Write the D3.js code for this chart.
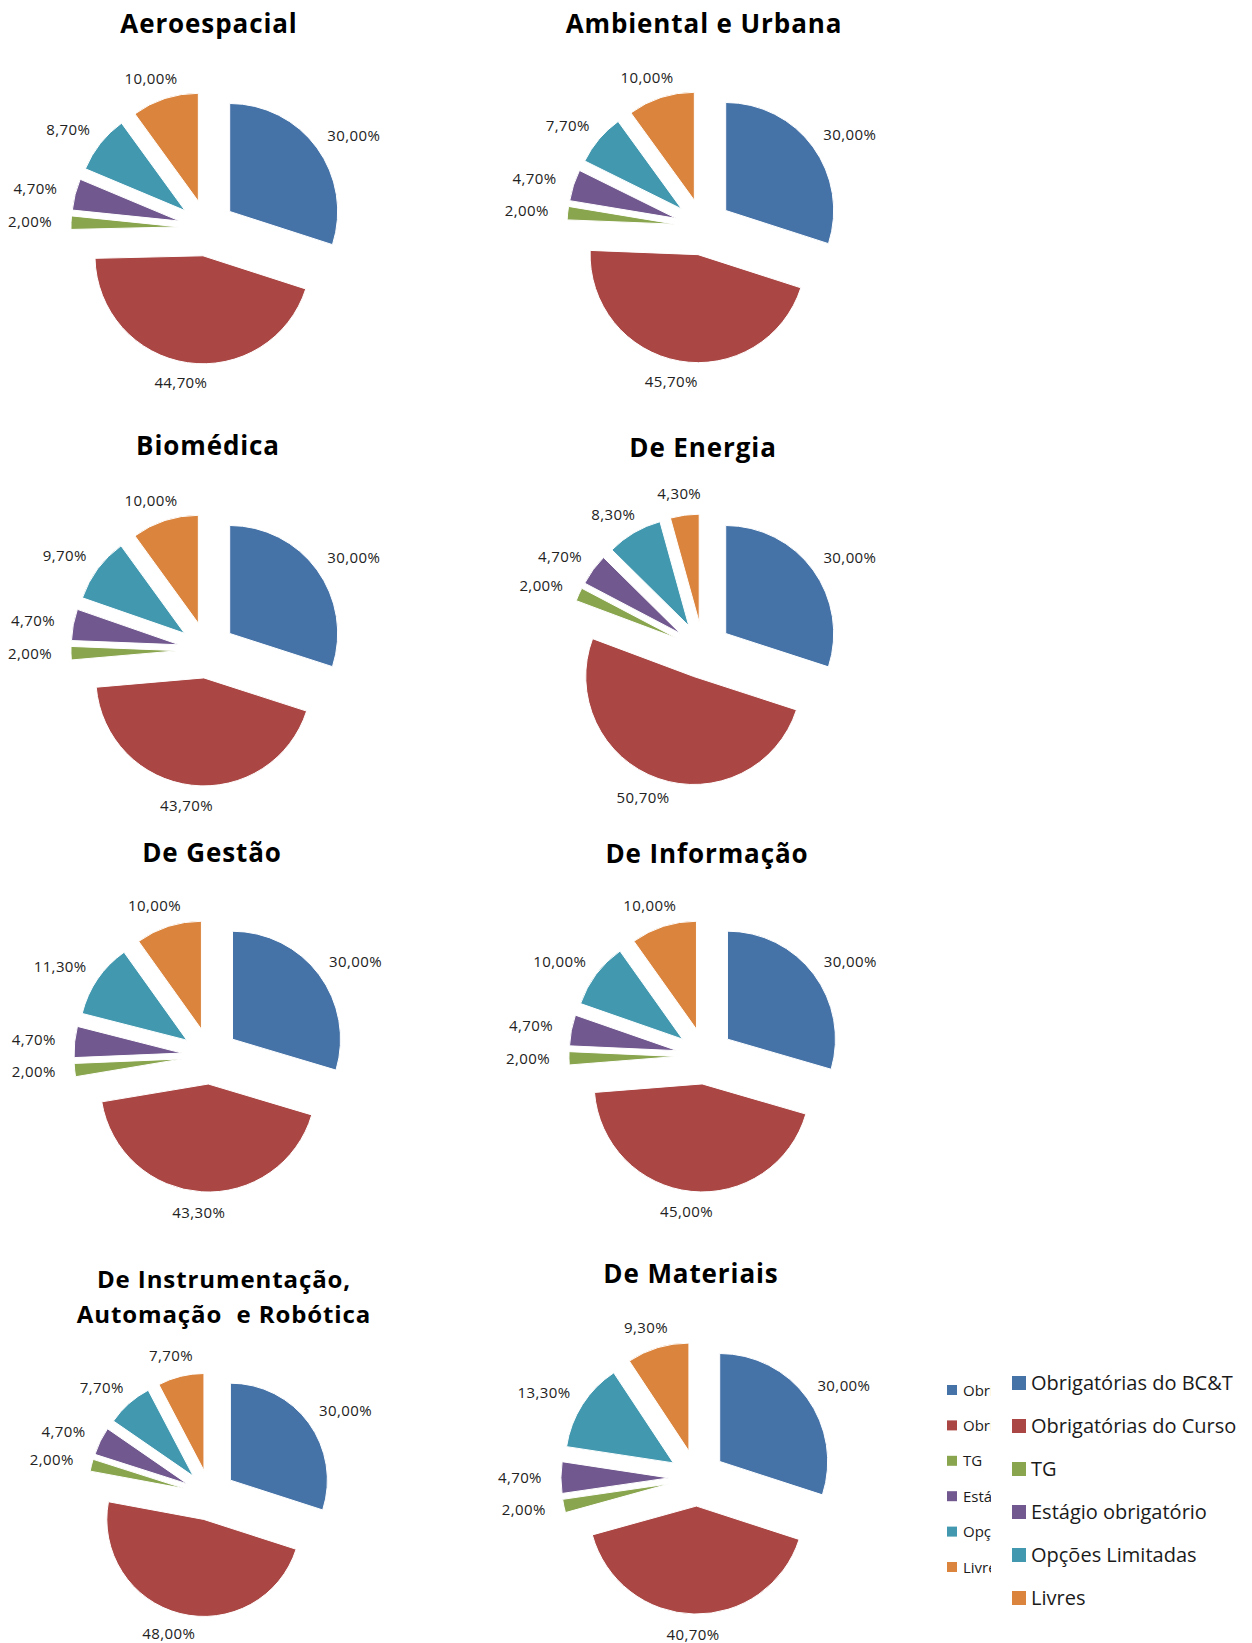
<!DOCTYPE html>
<html>
<head>
<meta charset="utf-8">
<script src="https://cdn.jsdelivr.net/npm/d3@7"></script>
<style>
  body { margin: 0; background: #fff; }
  svg { display: block; }
</style>
</head>
<body>
<svg id="chart" width="1252" height="1643"></svg>
<script>
// categories (same order in every pie, clockwise from 12 o'clock)
const categories = ['Obrigatórias do BC&T', 'Obrigatórias do Curso', 'TG', 'Estágio obrigatório', 'Opções Limitadas', 'Livres'];
const colors = ['#4572A7', '#AA4643', '#89A54E', '#71588F', '#4198AF', '#DB843D'];

// course titles
const courses = ['Aeroespacial', 'Ambiental e Urbana', 'Biomédica', 'De Energia', 'De Gestão', 'De Informação', 'De Instrumentação,\nAutomação  e Robótica', 'De Materiais'];

// values (%) per course
const aeroespacial = [30.0, 44.7, 2.0, 4.7, 8.7, 10.0];
const ambiental = [30.0, 45.7, 2.0, 4.7, 7.7, 10.0];
const biomedica = [30.0, 43.7, 2.0, 4.7, 9.7, 10.0];
const energia = [30.0, 50.7, 2.0, 4.7, 8.3, 4.3];
const gestao = [30.0, 43.3, 2.0, 4.7, 11.3, 10.0];
const informacao = [30.0, 45.0, 2.0, 4.7, 10.0, 10.0];
const instrumentacao = [30.0, 48.0, 2.0, 4.7, 7.7, 7.7];
const materiais = [30.0, 40.7, 2.0, 4.7, 13.3, 9.3];
const seriesList = [aeroespacial, ambiental, biomedica, energia, gestao, informacao, instrumentacao, materiais];

// panel layout (center, radius, title position and size)
const panels = [
  { cx: 207, cy: 228, r: 108, tx: 209, ty: 23, fs: 26 },
  { cx: 703, cy: 227, r: 108, tx: 704, ty: 23, fs: 26 },
  { cx: 207, cy: 650, r: 108, tx: 208, ty: 445, fs: 26 },
  { cx: 703, cy: 650, r: 108, tx: 703, ty: 447, fs: 26 },
  { cx: 210, cy: 1056, r: 108, tx: 212, ty: 852, fs: 26 },
  { cx: 705, cy: 1056, r: 108, tx: 707, ty: 853, fs: 26 },
  { cx: 210, cy: 1495, r: 97, tx: 224, ty: 1278, fs: 24 },
  { cx: 697, cy: 1478, r: 108, tx: 691, ty: 1273, fs: 26 }
];

const svg = d3.select('#chart');
const color = d3.scaleOrdinal().domain(categories).range(colors);
const fmt = v => v.toFixed(2).replace('.', ',') + '%';

const pie = d3.pie().sort(null).value(d => d.value);

seriesList.forEach(function(values, k) {
  let p = panels[k];
  let r = p.r;
  let explode = r * 0.26;
  let data = values.map((v, i) => ({ cat: categories[i], value: v }));
  let arcs = pie(data);
  let arc = d3.arc().innerRadius(0).outerRadius(r);

  // title
  let lines = courses[k].split('\n');
  let title = svg.append('text')
    .attr('x', p.tx)
    .attr('y', p.ty)
    .attr('text-anchor', 'middle')
    .attr('dominant-baseline', 'central')
    .style('font-family', '"Open Sans", sans-serif')
    .style('font-weight', 'bold')
    .style('font-size', p.fs + 'px')
    .style('letter-spacing', '0.9px')
    .style('white-space', 'pre')
    .style('fill', '#000');
  lines.forEach(function(l, i) {
    title.append('tspan')
      .attr('x', p.tx)
      .attr('dy', i == 0 ? 0 : 35)
      .text(l);
  });

  let g = svg.append('g')
    .attr('transform', 'translate(' + p.cx + ',' + p.cy + ')');

  g.selectAll('path')
    .data(arcs)
    .enter()
    .append('path')
    .attr('transform', function(d) {
      let a = (d.startAngle + d.endAngle) / 2;
      return 'translate(' + (Math.sin(a) * explode) + ',' + (-Math.cos(a) * explode) + ')';
    })
    .attr('d', arc)
    .attr('fill', d => color(d.data.cat))
    .attr('stroke', '#fff')
    .attr('stroke-width', 1);

  // data labels, outside end
  let labels = g.selectAll('.lbl')
    .data(arcs)
    .enter()
    .append('text')
    .attr('class', 'lbl')
    .attr('text-anchor', 'middle')
    .style('font-family', '"Open Sans", sans-serif')
    .style('font-size', '15px')
    .style('letter-spacing', '0.4px')
    .style('fill', '#222')
    .text(d => fmt(d.data.value));
  labels.each(function(d) {
    let w = this.getComputedTextLength();
    let a = (d.startAngle + d.endAngle) / 2;
    let ux = Math.sin(a);
    let uy = -Math.cos(a);
    let dist = r + explode + 15;
    let x = ux * dist + ux * (w / 2 + 4);
    let y = uy * dist + uy * 6;
    d3.select(this).attr('x', x).attr('y', y + 5);
  });
});

// legends (a clipped small one and the full one)
svg.append('clipPath').attr('id', 'clipSmall')
  .append('rect').attr('x', 940).attr('y', 1360).attr('width', 51).attr('height', 230);
let small = svg.append('g').attr('clip-path', 'url(#clipSmall)');
let smallRows = small.selectAll('g')
  .data(categories)
  .enter()
  .append('g')
  .attr('transform', (d, i) => 'translate(947,' + (1390 + i * 35.4) + ')');
smallRows.append('rect')
  .attr('x', 0).attr('y', -5).attr('width', 10).attr('height', 10)
  .attr('fill', d => color(d));
smallRows.append('text')
  .attr('x', 16).attr('y', 5.5)
  .style('font-family', '"Open Sans", sans-serif')
  .style('font-size', '15px')
  .style('fill', '#1a1a1a')
  .text(d => d)
  .each(function(d) {
    // keep only what shows inside the clipped box (plus the cut glyph)
    let t = d3.select(this);
    let s = d;
    while (s.length > 1 && this.getSubStringLength(0, s.length - 1) > 28) {
      s = s.slice(0, -1);
      t.text(s);
    }
  });

let big = svg.append('g');
let bigRows = big.selectAll('g')
  .data(categories)
  .enter()
  .append('g')
  .attr('transform', (d, i) => 'translate(1012,' + (1383 + i * 43) + ')');
bigRows.append('rect')
  .attr('x', 0).attr('y', -7).attr('width', 14).attr('height', 14)
  .attr('fill', d => color(d));
bigRows.append('text')
  .attr('x', 19).attr('y', 7)
  .style('font-family', '"Open Sans", sans-serif')
  .style('font-size', '20px')
  .style('fill', '#1a1a1a')
  .text(d => d);
</script>
</body>
</html>
